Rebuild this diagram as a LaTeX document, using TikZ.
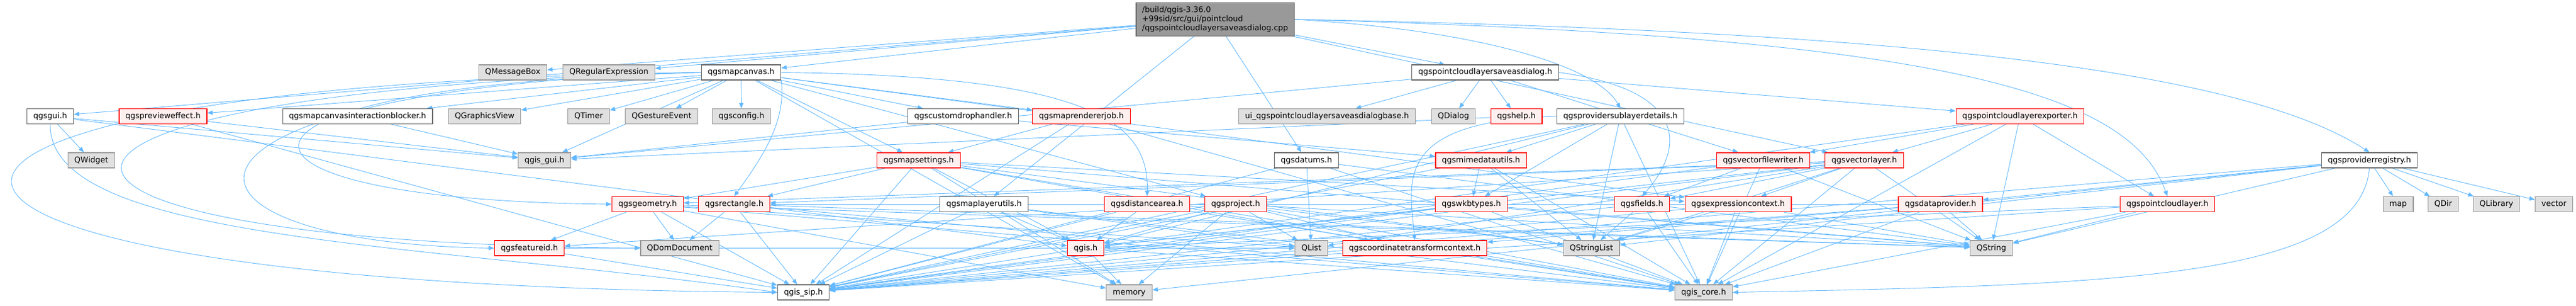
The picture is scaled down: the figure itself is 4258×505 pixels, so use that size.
\documentclass[tikz,border=0pt]{standalone}
\usepackage{fontspec}
\setmainfont{DejaVu Sans}
\usetikzlibrary{arrows.meta,backgrounds}
\definecolor{incblue}{HTML}{63B8FF}
\definecolor{incgrey}{HTML}{999999}
\definecolor{incdark}{HTML}{666666}
\definecolor{incfill}{HTML}{E0E0E0}
\definecolor{incpink}{HTML}{FFF0F0}
\definecolor{incred}{HTML}{FF0000}
\tikzstyle{incarrow} = [-{Triangle[length=9pt,width=7pt]}, line width=0.9pt, color=incblue]
\tikzstyle{incnode} = [draw, line width=1.2pt, inner xsep=10.5pt, inner ysep=0pt, text height=10pt, text depth=3pt, minimum height=25pt, font=\fontsize{13pt}{15pt}\selectfont]
\tikzstyle{incfile} = [incnode, draw=incdark, fill=white]
\tikzstyle{incbad} = [incnode, draw=incred, fill=incpink]
\tikzstyle{incsys} = [incnode, draw=incgrey, fill=incfill]
\tikzstyle{incroot} = [draw=incdark, fill=incgrey, line width=1.2pt, align=left, inner xsep=10pt, inner ysep=6pt, font=\fontsize{13pt}{15pt}\selectfont]

\begin{document}
\begin{tikzpicture}[x=1pt, y=-1pt]
\useasboundingbox (0,0) rectangle (4258,505);

% source file
\node[incroot] (root) at (2008.5,32) {/build/qgis-3.36.0\\+99sid/src/gui/pointcloud\\/qgspointcloudlayersaveasdialog.cpp};

% first level
\node[incsys] (qmsgbox) at (847.5,119.5) {QMessageBox};
\node[incsys] (qregexp) at (1006.5,119.5) {QRegularExpression};
\node[incfile] (mapcanvas) at (1225,119.5) {qgsmapcanvas.h};
\node[incfile] (dialogh) at (2455,119.5) {qgspointcloudlayersaveasdialog.h};

% second level
\node[incfile] (gui) at (83,192) {qgsgui.h};
\node[incbad] (preview) at (269.5,192) {qgsprevieweffect.h};
\node[incfile] (blocker) at (591,192) {qgsmapcanvasinteractionblocker.h};
\node[incsys] (qgview) at (801,192) {QGraphicsView};
\node[incsys] (qtimer) at (973,192) {QTimer};
\node[incsys] (qgesture) at (1093.5,192) {QGestureEvent};
\node[incsys] (config) at (1225.5,192) {qgsconfig.h};
\node[incfile] (drophandler) at (1592,192) {qgscustomdrophandler.h};
\node[incbad] (renderjob) at (1787.5,192) {qgsmaprendererjob.h};
\node[incsys] (uibase) at (2193.5,192) {ui\_qgspointcloudlayersaveasdialogbase.h};
\node[incsys] (qdialog) at (2402.5,192) {QDialog};
\node[incbad] (help) at (2506.5,192) {qgshelp.h};
\node[incfile] (sublayer) at (2678.5,192) {qgsprovidersublayerdetails.h};
\node[incbad] (exporter) at (3339,192) {qgspointcloudlayerexporter.h};

% third level
\node[incsys] (qwidget) at (151,264.5) {QWidget};
\node[incsys] (guih) at (900,264.5) {qgis\_gui.h};
\node[incbad] (mapsettings) at (1518.5,264.5) {qgsmapsettings.h};
\node[incfile] (datums) at (2159.5,264.5) {qgsdatums.h};
\node[incbad] (mimeutils) at (2448,264.5) {qgsmimedatautils.h};
\node[incbad] (filewriter) at (2914.5,264.5) {qgsvectorfilewriter.h};
\node[incbad] (vlayer) at (3081.5,264.5) {qgsvectorlayer.h};
\node[incfile] (registry) at (3916.5,264.5) {qgsproviderregistry.h};

% fourth level
\node[incbad] (geometry) at (1070.5,337) {qgsgeometry.h};
\node[incbad] (rectangle) at (1213.5,337) {qgsrectangle.h};
\node[incfile] (layerutils) at (1626.5,337) {qgsmaplayerutils.h};
\node[incbad] (distarea) at (1896,337) {qgsdistancearea.h};
\node[incbad] (project) at (2042.5,337) {qgsproject.h};
\node[incbad] (wkbtypes) at (2432,337) {qgswkbtypes.h};
\node[incbad] (fields) at (2714,337) {qgsfields.h};
\node[incbad] (exprctx) at (2873,337) {qgsexpressioncontext.h};
\node[incbad] (dataprov) at (3207.5,337) {qgsdataprovider.h};
\node[incbad] (pclayer) at (3582.5,337) {qgspointcloudlayer.h};
\node[incsys] (map) at (3964,337) {map};
\node[incsys] (qdir) at (4038.5,337) {QDir};
\node[incsys] (qlibrary) at (4126.5,337) {QLibrary};
\node[incsys] (vector) at (4221.5,337) {vector};

% fifth level
\node[incbad] (featureid) at (875,409.5) {qgsfeatureid.h};
\node[incsys] (qdomdoc) at (1123.5,409.5) {QDomDocument};
\node[incbad] (qgish) at (1794.5,409.5) {qgis.h};
\node[incsys] (qlist) at (2167.5,409.5) {QList};
\node[incbad] (ctcontext) at (2338.5,409.5) {qgscoordinatetransformcontext.h};
\node[incsys] (qstringlist) at (2630.5,409.5) {QStringList};
\node[incsys] (qstring) at (3291.5,409.5) {QString};

% sixth level
\node[incfile] (sip) at (1328,482.5) {qgis\_sip.h};
\node[incsys] (memory) at (1866.5,482.5) {memory};
\node[incsys] (coreh) at (2816,482.5) {qgis\_core.h};

% includes
\begin{scope}[on background layer]
\foreach \t in {qmsgbox,qregexp,mapcanvas,gui,dialogh,layerutils,datums,vlayer}
  \draw[incarrow] (root) -- (\t);
\draw[incarrow] (root.east) .. controls (2450,50) and (2640,110) .. (sublayer.north);
\draw[incarrow] (root.east) .. controls (3100,50) and (3700,110) .. (registry.north);
\draw[incarrow] (root.east) .. controls (3200,60) and (3520,150) .. (pclayer.north);
\foreach \t in {uibase,qdialog,help,filewriter,guih,exporter}
  \draw[incarrow] (dialogh) -- (\t);
\draw[incarrow] (dialogh.east) .. controls (2800,150) and (2780,250) .. (fields.north);
\foreach \t in {preview,blocker,qgview,qtimer,qgesture,config,drophandler,renderjob,guih,mapsettings,project,exprctx,memory}
  \draw[incarrow] (mapcanvas) -- (\t);
\draw[incarrow] (mapcanvas.east) .. controls (1800,125) and (1900,200) .. (distarea.north);
\draw[incarrow] (mapcanvas.south east) .. controls (1300,200) and (1260,260) .. (rectangle.north);
% loops round the left side
\draw[incarrow] (mapcanvas.west) .. controls (-380,140) and (-380,470) .. (sip.west);
\draw[incarrow] (mapcanvas.west) .. controls (-100,150) and (-100,400) .. (qdomdoc.west);
\draw[incarrow] (mapcanvas.west) .. controls (220,145) and (220,400) .. (featureid.west);
\draw[incarrow] (mapcanvas.west) .. controls (300,140) and (300,330) .. (geometry.west);
\foreach \t in {qwidget,guih,qgish}
  \draw[incarrow] (gui) -- (\t);
\draw[incarrow] (gui.south) .. controls (80,400) and (700,400) .. (sip.west);
\foreach \t in {guih,sip}
  \draw[incarrow] (preview) -- (\t);
\draw[incarrow] (blocker) -- (guih);
\draw[incarrow] (help) -- (guih);
\foreach \t in {guih,mimeutils}
  \draw[incarrow] (drophandler) -- (\t);
\foreach \t in {mapsettings,coreh,sip}
  \draw[incarrow] (renderjob) -- (\t);
\foreach \t in {coreh,sip,qgish,rectangle,ctcontext,exprctx,qstring,qstringlist,memory,geometry}
  \draw[incarrow] (mapsettings) -- (\t);
\foreach \t in {qlist,coreh,qstring,sip}
  \draw[incarrow] (datums) -- (\t);
\foreach \t in {wkbtypes,qstringlist,coreh,sip}
  \draw[incarrow] (mimeutils) -- (\t);
\foreach \t in {coreh,qgish,mimeutils,wkbtypes,qstringlist,sip}
  \draw[incarrow] (sublayer) -- (\t);
\draw[incarrow] (sublayer.west) .. controls (2300,200) and (2330,300) .. (ctcontext.north);
\foreach \t in {filewriter,vlayer,pclayer,coreh,qgish,qstring}
  \draw[incarrow] (exporter) -- (\t);
\foreach \t in {coreh,sip,fields,qstring}
  \draw[incarrow] (filewriter) -- (\t);
\foreach \t in {coreh,sip,qgish,qstring,qstringlist,qlist,fields,exprctx,featureid,rectangle,geometry}
  \draw[incarrow] (vlayer) -- (\t);
\foreach \t in {map,qdir,qlibrary,vector,dataprov,qstring,qstringlist,sip,memory}
  \draw[incarrow] (registry) -- (\t);
\draw[incarrow] (registry.south) .. controls (3900,460) and (3500,470) .. (coreh.east);
\foreach \t in {featureid,qdomdoc,sip,coreh,qstring,qlist,memory}
  \draw[incarrow] (geometry) -- (\t);
\foreach \t in {qdomdoc,coreh,sip,qstring}
  \draw[incarrow] (rectangle) -- (\t);
\foreach \t in {sip,qlist}
  \draw[incarrow] (featureid) -- (\t);
\foreach \t in {qgish,coreh,sip,qlist}
  \draw[incarrow] (layerutils) -- (\t);
\foreach \t in {qgish,coreh,sip}
  \draw[incarrow] (distarea) -- (\t);
\foreach \t in {qgish,memory,coreh,sip,qstringlist,qstring,qlist,ctcontext}
  \draw[incarrow] (project) -- (\t);
\foreach \t in {qstring,coreh,sip,qgish}
  \draw[incarrow] (wkbtypes) -- (\t);
\foreach \t in {coreh,sip,qstringlist}
  \draw[incarrow] (fields) -- (\t);
\foreach \t in {qstring,qstringlist,coreh,sip}
  \draw[incarrow] (exprctx) -- (\t);
\foreach \t in {coreh,qstring,sip,ctcontext,rectangle}
  \draw[incarrow] (dataprov) -- (\t);
\foreach \t in {coreh,sip,qstring,qgish}
  \draw[incarrow] (pclayer) -- (\t);
\foreach \t in {memory,coreh,sip}
  \draw[incarrow] (qgish) -- (\t);
\foreach \t in {coreh,sip}
  \draw[incarrow] (ctcontext) -- (\t);
\end{scope}
\end{tikzpicture}
\end{document}
